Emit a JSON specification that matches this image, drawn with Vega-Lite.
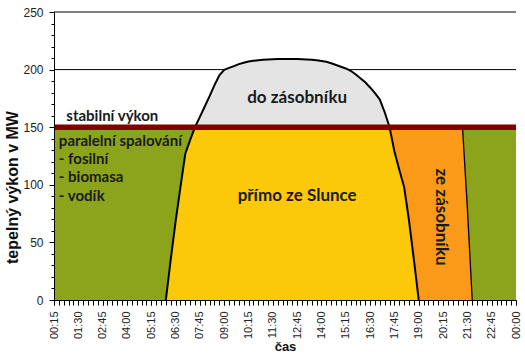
{
  "$schema": "https://vega.github.io/schema/vega-lite/v6.json",
  "width": 462,
  "height": 288,
  "autosize": {"type": "none"},
  "padding": {"left": 54, "top": 12, "right": 9, "bottom": 61},
  "background": "white",
  "config": {
    "view": {"stroke": null},
    "axis": {
      "grid": false, "tickColor": "#000000", "domainColor": "#000000", "tickWidth": 1, "domainWidth": 1,
      "tickOpacity": 1, "tickCap": "butt",
      "labelOverlap": false, "labelFlush": false,
      "labelFont": "Liberation Sans", "labelColor": "#222222", "labelPadding": 6,
      "titleFont": "Liberation Sans", "titleFontWeight": "bold", "titleColor": "#111111",
      "titleBaseline": "middle", "titleAlign": "center"
    }
  },
  "resolve": {"axis": {"x": "independent", "y": "independent"}},
  "datasets": {
    "curve": [
      {"t":15,"g":150},{"t":30,"g":150},{"t":45,"g":150},{"t":60,"g":150},{"t":75,"g":150},{"t":90,"g":150},
      {"t":105,"g":150},{"t":120,"g":150},{"t":135,"g":150},{"t":150,"g":150},{"t":165,"g":150},{"t":180,"g":150},
      {"t":195,"g":150},{"t":210,"g":150},{"t":225,"g":150},{"t":240,"g":150},{"t":255,"g":150},{"t":270,"g":150},
      {"t":285,"g":150},{"t":300,"g":150},{"t":315,"g":150},{"t":330,"g":150},{"t":345,"g":150},
      {"t":360,"g":150,"s":0,"d":0},
      {"t":375,"g":150,"s":35,"d":35},
      {"t":390,"g":150,"s":68,"d":68},
      {"t":405,"g":150,"s":98,"d":98},
      {"t":420,"g":150,"s":127,"d":127},
      {"t":435,"g":150,"s":139,"d":139},
      {"t":450,"g":150,"s":150,"d":150,"e":150},
      {"t":465,"g":150,"s":159,"d":150,"e":159},
      {"t":480,"g":150,"s":168,"d":150,"e":168},
      {"t":495,"g":150,"s":177,"d":150,"e":177},
      {"t":510,"g":150,"s":186.5,"d":150,"e":186.5},
      {"t":525,"g":150,"s":195,"d":150,"e":195},
      {"t":540,"g":150,"s":199.8,"d":150,"e":199.8},
      {"t":555,"g":150,"s":201.5,"d":150,"e":201.5},
      {"t":570,"g":150,"s":203,"d":150,"e":203},
      {"t":585,"g":150,"s":204.8,"d":150,"e":204.8},
      {"t":600,"g":150,"s":206,"d":150,"e":206},
      {"t":615,"g":150,"s":207,"d":150,"e":207},
      {"t":630,"g":150,"s":207.6,"d":150,"e":207.6},
      {"t":645,"g":150,"s":208.1,"d":150,"e":208.1},
      {"t":660,"g":150,"s":208.5,"d":150,"e":208.5},
      {"t":675,"g":150,"s":208.8,"d":150,"e":208.8},
      {"t":690,"g":150,"s":209,"d":150,"e":209},
      {"t":705,"g":150,"s":209.1,"d":150,"e":209.1},
      {"t":720,"g":150,"s":209.2,"d":150,"e":209.2},
      {"t":735,"g":150,"s":209.2,"d":150,"e":209.2},
      {"t":750,"g":150,"s":209.2,"d":150,"e":209.2},
      {"t":765,"g":150,"s":209.1,"d":150,"e":209.1},
      {"t":780,"g":150,"s":209,"d":150,"e":209},
      {"t":795,"g":150,"s":208.8,"d":150,"e":208.8},
      {"t":810,"g":150,"s":208.5,"d":150,"e":208.5},
      {"t":825,"g":150,"s":208.1,"d":150,"e":208.1},
      {"t":840,"g":150,"s":207.5,"d":150,"e":207.5},
      {"t":855,"g":150,"s":206.8,"d":150,"e":206.8},
      {"t":870,"g":150,"s":205.5,"d":150,"e":205.5},
      {"t":885,"g":150,"s":204,"d":150,"e":204},
      {"t":900,"g":150,"s":202.5,"d":150,"e":202.5},
      {"t":915,"g":150,"s":201,"d":150,"e":201,"o":150},
      {"t":930,"g":150,"s":199,"d":150,"e":199,"o":150},
      {"t":945,"g":150,"s":196,"d":150,"e":196,"o":150},
      {"t":960,"g":150,"s":192.5,"d":150,"e":192.5,"o":150},
      {"t":975,"g":150,"s":189,"d":150,"e":189,"o":150},
      {"t":990,"g":150,"s":184.5,"d":150,"e":184.5,"o":150},
      {"t":1005,"g":150,"s":179.5,"d":150,"e":179.5,"o":150},
      {"t":1020,"g":150,"s":174,"d":150,"e":174,"o":150},
      {"t":1035,"g":150,"s":163,"d":150,"e":163,"o":150},
      {"t":1050,"g":150,"s":150,"d":150,"e":150,"o":150},
      {"t":1065,"g":150,"s":129,"d":129,"o":150},
      {"t":1080,"g":150,"s":113,"d":113,"o":150},
      {"t":1095,"g":150,"s":98,"d":98,"o":150},
      {"t":1110,"g":150,"s":69,"d":69,"o":150},
      {"t":1125,"g":150,"s":35,"d":35,"o":150},
      {"t":1140,"g":150,"s":0,"d":0,"o":150},
      {"t":1155,"g":150,"o":150},
      {"t":1170,"g":150,"o":150},
      {"t":1185,"g":150,"o":150},
      {"t":1200,"g":150,"o":150},
      {"t":1215,"g":150,"o":150},
      {"t":1230,"g":150,"o":150},
      {"t":1245,"g":150,"o":150},
      {"t":1260,"g":150,"o":150},
      {"t":1275,"g":150,"o":150,"k":150},
      {"t":1290,"g":150,"o":80,"k":80},
      {"t":1305,"g":150,"o":0,"k":0},
      {"t":1320,"g":150},{"t":1335,"g":150},{"t":1350,"g":150},{"t":1365,"g":150},{"t":1380,"g":150},
      {"t":1395,"g":150},{"t":1410,"g":150},{"t":1425,"g":150},{"t":1440,"g":150}
    ]
  },
  "layer": [
    {
      "data": {"name": "curve"},
      "mark": {"type": "area", "color": "#8ca41c", "opacity": 1},
      "encoding": {
        "x": {
          "field": "t", "type": "quantitative", "title": "čas",
          "scale": {"domain": [15, 1440], "nice": false, "zero": false},
          "axis": {
            "orient": "bottom",
            "values": [15,90,165,240,315,390,465,540,615,690,765,840,915,990,1065,1140,1215,1290,1365,1440],
            "labelExpr": "format(floor(datum.value / 60) % 24, '02d') + ':' + format(datum.value % 60, '02d')",
            "labelAngle": -90, "labelAlign": "right", "labelBaseline": "middle", "labelFontSize": 11,
            "tickSize": 5, "ticks": true, "domain": true, "tickColor": "#000000", "tickWidth": 1, "tickOpacity": 1,
            "titleFontSize": 13, "titleX": 231, "titleY": 46, "zindex": 1
          }
        },
        "y": {
          "field": "g", "type": "quantitative", "title": "tepelný výkon v MW",
          "scale": {"domain": [0, 250], "nice": false},
          "axis": {
            "orient": "left",
            "values": [0,50,100,150,200,250],
            "labelFontSize": 12, "tickSize": 5, "ticks": true, "domain": true, "tickColor": "#000000", "tickWidth": 1, "tickOpacity": 1,
            "titleFontSize": 16, "titleAngle": -90, "titleX": -42, "titleY": 175, "zindex": 1
          }
        }
      }
    },
    {
      "data": {"name": "curve"},
      "mark": {"type": "area", "color": "#8ca41c", "opacity": 0},
      "encoding": {
        "x": {
          "field": "t", "type": "quantitative",
          "axis": {
            "orient": "bottom", "title": null, "labels": false, "domain": false, "ticks": true, "tickSize": 5,
            "tickColor": "#000000", "tickWidth": 1, "tickOpacity": 1,
            "values": [15,30,45,60,75,90,105,120,135,150,165,180,195,210,225,240,255,270,285,300,315,330,345,360,375,390,405,420,435,450,465,480,495,510,525,540,555,570,585,600,615,630,645,660,675,690,705,720,735,750,765,780,795,810,825,840,855,870,885,900,915,930,945,960,975,990,1005,1020,1035,1050,1065,1080,1095,1110,1125,1140,1155,1170,1185,1200,1215,1230,1245,1260,1275,1290,1305,1320,1335,1350,1365,1380,1395,1410,1425,1440],
            "zindex": 1
          }
        },
        "y": {
          "field": "g", "type": "quantitative",
          "axis": {
            "orient": "left", "title": null, "labels": false, "domain": false, "ticks": true, "tickSize": 3,
            "tickColor": "#000000", "tickWidth": 1, "tickOpacity": 1,
            "values": [10,20,30,40,60,70,80,90,110,120,130,140,160,170,180,190,210,220,230,240],
            "zindex": 1
          }
        }
      }
    },
    {
      "data": {"values": [{}]},
      "mark": {"type": "rule", "color": "black", "strokeWidth": 1},
      "encoding": {"y": {"datum": 200, "type": "quantitative", "axis": null}}
    },
    {
      "data": {"values": [{}]},
      "mark": {"type": "rule", "color": "black", "strokeWidth": 1},
      "encoding": {"y": {"datum": 250, "type": "quantitative", "axis": null}}
    },
    {
      "data": {"name": "curve"},
      "mark": {"type": "area", "color": "#fa9a18", "opacity": 1},
      "encoding": {
        "x": {"field": "t", "type": "quantitative", "axis": null},
        "y": {"field": "o", "type": "quantitative", "axis": null}
      }
    },
    {
      "data": {"name": "curve"},
      "mark": {"type": "area", "color": "#fbc90a", "opacity": 1},
      "encoding": {
        "x": {"field": "t", "type": "quantitative", "axis": null},
        "y": {"field": "d", "type": "quantitative", "axis": null}
      }
    },
    {
      "data": {"name": "curve"},
      "mark": {"type": "area", "color": "#e4e4e4", "opacity": 1},
      "encoding": {
        "x": {"field": "t", "type": "quantitative", "axis": null},
        "y": {"field": "e", "type": "quantitative", "axis": null},
        "y2": {"datum": 150}
      }
    },
    {
      "data": {"name": "curve"},
      "mark": {"type": "line", "color": "black", "strokeWidth": 2},
      "encoding": {
        "x": {"field": "t", "type": "quantitative", "axis": null},
        "y": {"field": "s", "type": "quantitative", "axis": null}
      }
    },
    {
      "data": {"name": "curve"},
      "mark": {"type": "line", "color": "black", "strokeWidth": 1.3},
      "encoding": {
        "x": {"field": "t", "type": "quantitative", "axis": null},
        "y": {"field": "k", "type": "quantitative", "axis": null}
      }
    },
    {
      "data": {"values": [{}]},
      "mark": {"type": "rule", "color": "#800000", "strokeWidth": 5.5},
      "encoding": {"y": {"datum": 150, "type": "quantitative", "axis": null}}
    },
    {
      "data": {"values": [
        {"label": "stabilní výkon", "t": 53, "v": 155.6},
        {"label": "paralelní spalování", "t": 30, "v": 133.9},
        {"label": "- fosilní", "t": 30, "v": 118.1},
        {"label": "- biomasa", "t": 30, "v": 102.2},
        {"label": "- vodík", "t": 30, "v": 86.2}
      ]},
      "mark": {"type": "text", "align": "left", "baseline": "alphabetic", "font": "Lato", "fontWeight": "bold", "fontSize": 15, "color": "#1a1a1a"},
      "encoding": {
        "x": {"field": "t", "type": "quantitative", "axis": null},
        "y": {"field": "v", "type": "quantitative", "axis": null},
        "text": {"field": "label"}
      }
    },
    {
      "data": {"values": [
        {"label": "do zásobníku", "t": 765, "v": 170.7},
        {"label": "přímo ze Slunce", "t": 765, "v": 85.9}
      ]},
      "mark": {"type": "text", "align": "center", "baseline": "alphabetic", "font": "Lato", "fontWeight": "bold", "fontSize": 17, "color": "#1a1a1a"},
      "encoding": {
        "x": {"field": "t", "type": "quantitative", "axis": null},
        "y": {"field": "v", "type": "quantitative", "axis": null},
        "text": {"field": "label"}
      }
    },
    {
      "data": {"values": [
        {"label": "ze zásobníku", "t": 1210, "v": 72}
      ]},
      "mark": {"type": "text", "align": "center", "baseline": "middle", "angle": 90, "font": "Lato", "fontWeight": "bold", "fontSize": 17, "color": "#1a1a1a"},
      "encoding": {
        "x": {"field": "t", "type": "quantitative", "axis": null},
        "y": {"field": "v", "type": "quantitative", "axis": null},
        "text": {"field": "label"}
      }
    }
  ]
}
